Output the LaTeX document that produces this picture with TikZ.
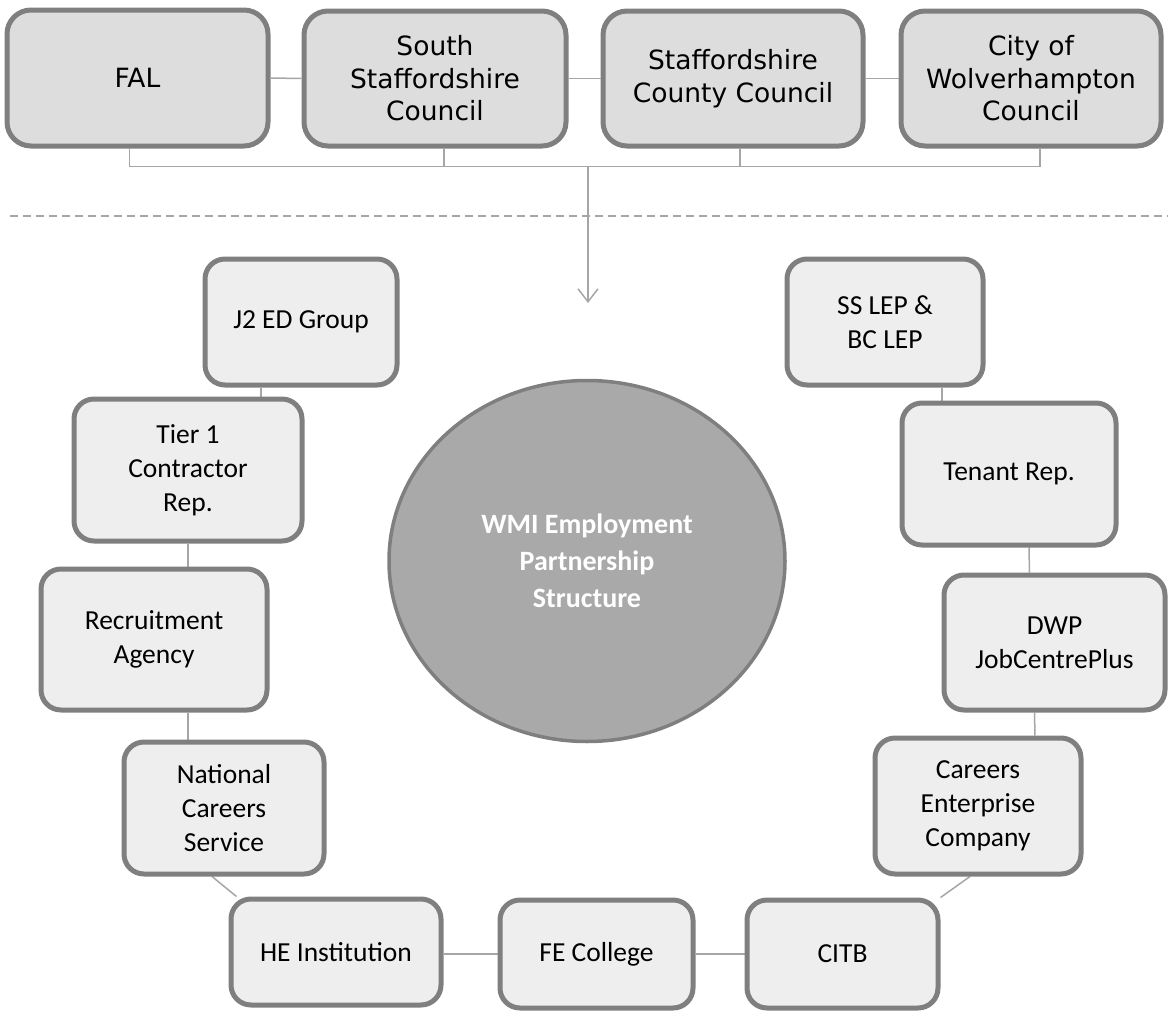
\documentclass[tikz,border=0pt]{standalone}
\usepackage{fontspec}
\setmainfont{Carlito}
\newfontfamily\verdana{DejaVu Sans}
\usepackage{xcolor}
\usetikzlibrary{arrows.meta,calc,shapes.geometric,backgrounds}
\definecolor{edgegray}{HTML}{7F7F7F}
\definecolor{linegray}{HTML}{A6A6A6}
\definecolor{topfill}{HTML}{DDDDDD}
\definecolor{boxfill}{HTML}{EEEEEE}
\definecolor{hubfill}{HTML}{A9A9A9}

\begin{document}
\begin{tikzpicture}[x=1pt,y=-1pt,
  council/.style={draw=edgegray,fill=topfill,line width=5pt,rounded corners=24pt,align=center,inner sep=0pt,
    font=\verdana\fontsize{26.5}{32.5}\selectfont},
  partner/.style={draw=edgegray,fill=boxfill,line width=5pt,rounded corners=20pt,align=center,inner sep=0pt,
    font=\fontsize{27.5}{34}\selectfont},
  link/.style={draw=linegray,line width=1.5pt}]
\useasboundingbox (0,0) rectangle (1168,1012);

% councils along the top
\node[council,minimum width=261pt,minimum height=136pt] (fal) at (137.5,78) {FAL};
\node[council,minimum width=262pt,minimum height=135pt] (ssc) at (435,78.5) {South\\Staffordshire\\Council};
\node[council,minimum width=260pt,minimum height=135pt] (scc) at (733,78.5) {Staffordshire\\County Council};
\node[council,minimum width=260pt,minimum height=135pt] (cwc) at (1031,78.5) {City of\\Wolverhampton\\Council};
\foreach \a/\b in {fal/ssc,ssc/scc,scc/cwc}{
\draw[link] (\a.east) -- (\b.west);
}
\foreach \n/\dx in {fal/-8,ssc/9,scc/7,cwc/9}{
\draw[link] ($(\n.south)+(\dx,0)$) -- ++(0,18);
}
\coordinate (hub) at (588,166);
\coordinate (tip) at (588,303);
\draw[link] ($(fal.south)+(-8,18)$) -- ($(cwc.south)+(9,18)$);
\draw[link,-{Straight Barb[length=13pt,width=20pt]}] (hub) -- (tip);

\coordinate (dl) at (10,216);
\coordinate (dr) at (1168,216);
\draw[linegray,line width=1.5pt,dash pattern=on 8pt off 5pt] (dl) -- (dr);

% the partnership ring
\node[ellipse,draw=edgegray,fill=hubfill,line width=3.5pt,minimum width=396pt,minimum height=361pt,
  text=white,align=center,font=\bfseries\fontsize{28}{37}\selectfont] (wmi) at (587,561)
  {WMI Employment\\Partnership\\Structure};

\node[partner,minimum width=192pt,minimum height=126pt] (j2) at (301,322) {J2 ED Group};
\node[partner,minimum width=228pt,minimum height=142pt] (tier) at (188,470) {Tier 1\\Contractor\\Rep.};
\node[partner,minimum width=226pt,minimum height=141pt] (rec) at (154,639.5) {Recruitment\\Agency};
\node[partner,minimum width=200pt,minimum height=132pt] (ncs) at (224,808) {National\\Careers\\Service};
\node[partner,minimum width=210pt,minimum height=106pt] (he) at (336,952) {HE Institution};
\node[partner,minimum width=193pt,minimum height=108pt] (fe) at (596.5,954) {FE College};
\node[partner,minimum width=191pt,minimum height=108pt] (citb) at (842.5,954) {CITB};
\node[partner,minimum width=206pt,minimum height=136pt] (cec) at (978,806) {Careers\\Enterprise\\Company};
\node[partner,minimum width=221pt,minimum height=135pt] (dwp) at (1054.5,642.5) {DWP\\JobCentrePlus};
\node[partner,minimum width=214pt,minimum height=142pt] (ten) at (1009,474) {Tenant Rep.};
\node[partner,minimum width=196pt,minimum height=126pt] (lep) at (885,322) {SS LEP \&\\BC LEP};

\begin{scope}[on background layer]
\draw[link] ($(j2.south)+(-40,0)$) -- ($(tier.north)+(73,0)$);
\draw[link] (tier.south) -- (tier.south |- rec.north);
\draw[link] (rec.south -| tier.south) -- (ncs.north -| tier.south);
\draw[link] ($(ncs.south)+(-12,0)$) -- ($(he.north west)+(8,0)$);
\draw[link] (he.east |- fe.west) -- (fe.west);
\draw[link] (fe.east) -- (citb.west);
\draw[link] (citb.north east) -- ($(cec.south)+(-8,0)$);
\draw[link] ($(cec.north)+(57,0)$) -- ($(dwp.south)+(-20,0)$);
\draw[link] ($(dwp.north)+(-25,0)$) -- ($(ten.south)+(20,0)$);
\draw[link] ($(ten.north)+(-67,0)$) -- ($(lep.south)+(57,0)$);
\end{scope}
\end{tikzpicture}
\end{document}
